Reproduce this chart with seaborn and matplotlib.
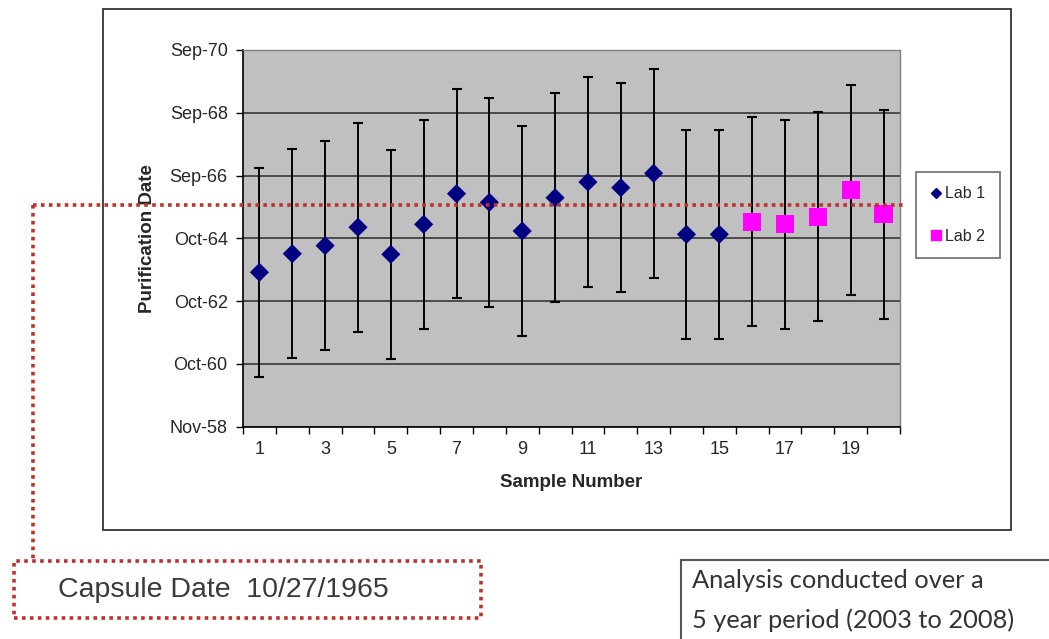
#!/usr/bin/env python3
"""
Purification date per sample (two labs) with capsule date reference.
"""

import numpy as np
import pandas as pd
import matplotlib
matplotlib.use('Agg')
import matplotlib.pyplot as plt
import matplotlib.dates as mdates
from matplotlib.lines import Line2D
from matplotlib.patches import Rectangle
import seaborn as sns

# --- data ---
lab1_samples = list(range(1, 16))
lab1_dates = ['1963-09-16', '1964-04-16', '1964-07-17', '1965-02-13', '1964-04-09',
              '1965-03-19', '1966-03-05', '1965-11-26', '1965-01-01', '1966-01-18',
              '1966-07-17', '1966-05-13', '1966-10-25', '1964-11-24', '1964-11-24']
lab2_samples = list(range(16, 21))
lab2_dates = ['1965-04-18', '1965-03-19', '1965-06-14', '1966-04-16', '1965-07-12']
error_days = 1200          # +/- error bar, days

capsule_date = '1965-10-27'
axis_start = '1958-11-10'  # Nov-58
axis_step_days = 720
n_ticks = 7
xtick_labels = [1, 3, 5, 7, 9, 11, 13, 15, 17, 19]

lab_names = ['Lab 1', 'Lab 2']
lab_colors = {'Lab 1': '#000080', 'Lab 2': '#FF00FF'}
lab_markers = {'Lab 1': 'D', 'Lab 2': 's'}


def build_frame():
    df = pd.DataFrame({
        'sample': lab1_samples + lab2_samples,
        'lab': ['Lab 1'] * len(lab1_samples) + ['Lab 2'] * len(lab2_samples),
        'date': pd.to_datetime(lab1_dates + lab2_dates),
    })
    df['datenum'] = mdates.date2num(df['date'])
    return df


def main():
    sns.set_theme(style='white')
    plt.rcParams['font.family'] = ['Liberation Sans', 'DejaVu Sans']

    W, H = 1049, 639
    fig = plt.figure(figsize=(W / 100, H / 100), dpi=100)
    fig.patch.set_facecolor('white')

    # outer chart frame
    fig.patches.append(Rectangle((103 / W, 1 - 530 / H), 908 / W, 521 / H,
                                 transform=fig.transFigure, fill=False,
                                 edgecolor='#333333', lw=1.3, zorder=0))

    ax = fig.add_axes([243 / W, 1 - 426.7 / H, 657 / W, 376.7 / H])
    ax.set_facecolor('#C0C0C0')

    df = build_frame()

    # y axis: date ticks every 720 days
    ticks = pd.date_range(axis_start, periods=n_ticks, freq=f'{axis_step_days}D')
    tick_nums = mdates.date2num(ticks)
    ax.set_ylim(tick_nums[0], tick_nums[-1])
    ax.set_yticks(tick_nums)
    ax.set_yticklabels([t.strftime('%b-%y') for t in ticks], fontsize=13)
    ax.yaxis.grid(True, color='#2b2b2b', lw=1.1)
    ax.set_axisbelow(True)

    # x axis: category style
    ax.set_xlim(0.5, 20.5)
    ax.set_xticks(xtick_labels)
    ax.set_xticklabels([str(v) for v in xtick_labels], fontsize=13)
    ax.set_xticks(np.arange(0.5, 21, 1), minor=True)
    ax.tick_params(axis='x', which='major', length=0, pad=10)
    ax.tick_params(axis='x', which='minor', length=5, width=1, color='black',
                   direction='out', bottom=True)
    ax.tick_params(axis='y', length=5, width=1, color='black', direction='out',
                   left=True, pad=6)

    # error bars
    ax.errorbar(df['sample'], df['datenum'], yerr=error_days, fmt='none',
                ecolor='black', elinewidth=1.4, capsize=3.5, capthick=1.5, zorder=2)

    sns.scatterplot(data=df, x='sample', y='datenum', hue='lab', style='lab',
                    size='lab', sizes={'Lab 1': 95, 'Lab 2': 175},
                    palette=lab_colors, markers=lab_markers, linewidth=0,
                    legend=False, ax=ax, zorder=3)

    ax.set_xlabel('Sample Number', fontsize=13.5, fontweight='bold', labelpad=12)
    ax.set_ylabel('Purification Date', fontsize=13.5, fontweight='bold', labelpad=10)

    for side in ['left', 'bottom']:
        ax.spines[side].set_color('black')
        ax.spines[side].set_linewidth(1.2)
    for side in ['top', 'right']:
        ax.spines[side].set_color('#808080')
        ax.spines[side].set_linewidth(1)

    # legend
    handles = [Line2D([], [], ls='none', marker=lab_markers[n], color=lab_colors[n],
                      markersize=5 if n == 'Lab 1' else 7) for n in lab_names]
    leg = fig.legend(handles, lab_names, loc='center',
                     bbox_to_anchor=(958 / W, 1 - 215 / H), bbox_transform=fig.transFigure,
                     fontsize=11.5, frameon=True, fancybox=False, handlelength=0.6,
                     handletextpad=0.3, labelspacing=1.7, borderpad=0.9)
    leg.get_frame().set_edgecolor('#555555')
    leg.get_frame().set_linewidth(1.3)

    # capsule date reference line (dotted red)
    red = '#C0302E'
    dotted = (0, (1, 1.2))
    cap_num = mdates.date2num(pd.Timestamp(capsule_date))
    fig.canvas.draw()
    cap_y = fig.transFigure.inverted().transform(ax.transData.transform((1, cap_num)))[1]
    fig.add_artist(Line2D([33 / W, 905 / W], [cap_y, cap_y], transform=fig.transFigure,
                          color=red, lw=2.6, ls=dotted))
    fig.add_artist(Line2D([33 / W, 33 / W], [cap_y, 1 - 560.7 / H], transform=fig.transFigure,
                          color=red, lw=2.6, ls=dotted))
    fig.patches.append(Rectangle((14 / W, 1 - 618 / H), 467 / W, 57.3 / H,
                                 transform=fig.transFigure, fill=False,
                                 edgecolor=red, lw=2.6, ls=dotted))
    fig.text(58 / W, 1 - 590 / H, 'Capsule Date  10/27/1965', fontsize=20.5,
             color='#3a3a3a', va='center', ha='left')

    # analysis note box
    fig.patches.append(Rectangle((681 / W, -0.1), 0.5, 0.1 + 79 / H,
                                 transform=fig.transFigure, fill=False,
                                 edgecolor='#555555', lw=1.5))
    fig.text(692 / W, 1 - 581 / H, 'Analysis conducted over a', fontsize=18.3,
             family=['Lato', 'DejaVu Sans'], color='#333333', va='center')
    fig.text(692 / W, 1 - 620 / H, '5 year period (2003 to 2008)', fontsize=18.3,
             family=['Lato', 'DejaVu Sans'], color='#333333', va='center')

    fig.savefig('out.png', dpi=100)
    plt.close(fig)


if __name__ == '__main__':
    main()
